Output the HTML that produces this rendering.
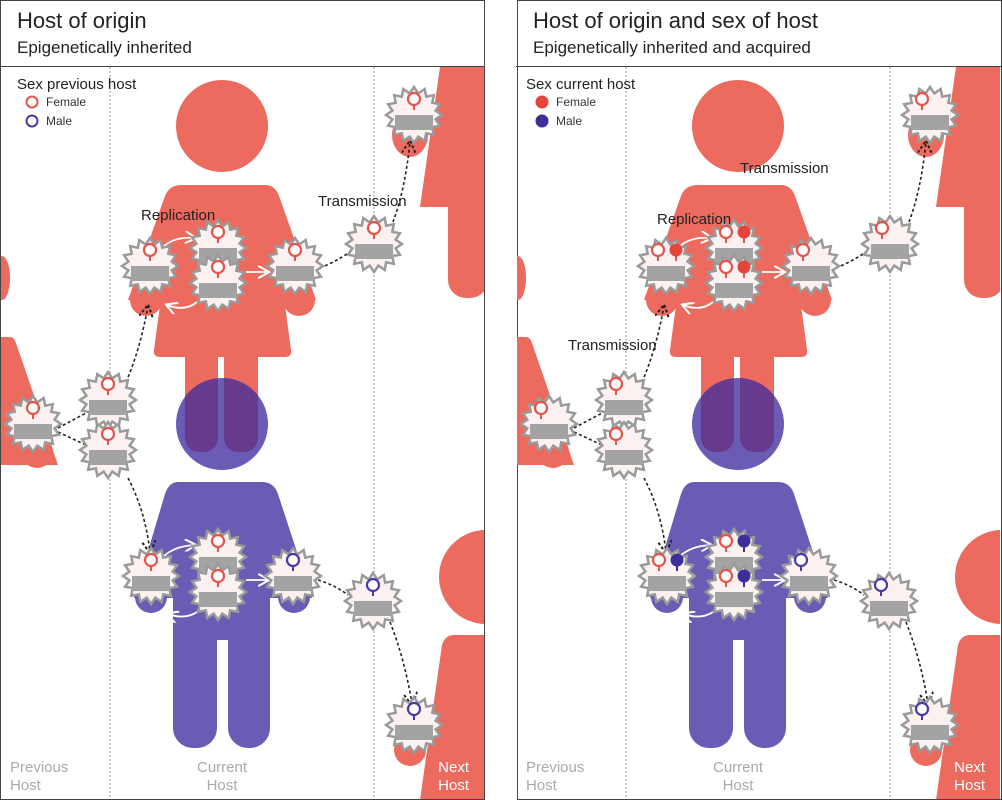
<!DOCTYPE html>
<html><head><meta charset="utf-8"><style>
html,body{margin:0;padding:0;background:#fff;}
svg{display:block;font-family:"Liberation Sans",sans-serif;}
</style></head><body>
<svg width="1002" height="800" viewBox="0 0 1002 800" xmlns="http://www.w3.org/2000/svg">
<defs>
<g id="v">
<polygon points="28,0 21.6,4.3 25.9,10.7 18.3,12.2 19.8,19.8 12.2,18.3 10.7,25.9 4.3,21.6 0,28 -4.3,21.6 -10.7,25.9 -12.2,18.3 -19.8,19.8 -18.3,12.2 -25.9,10.7 -21.6,4.3 -28,0 -21.6,-4.3 -25.9,-10.7 -18.3,-12.2 -19.8,-19.8 -12.2,-18.3 -10.7,-25.9 -4.3,-21.6 0,-28 4.3,-21.6 10.7,-25.9 12.2,-18.3 19.8,-19.8 18.3,-12.2 25.9,-10.7 21.6,-4.3" fill="#fbf1f1" stroke="#9a9a9a" stroke-width="2.5" stroke-linejoin="miter"/>
<rect x="-19" y="0" width="38" height="15" fill="#a3a3a3"/>
</g>
<g id="mf"><line x1="0" y1="0" x2="0" y2="-5" stroke="#e5544a" stroke-width="2"/><circle cx="0" cy="-11" r="6" fill="#fff" stroke="#e5544a" stroke-width="2.2"/></g>
<g id="mm"><line x1="0" y1="0" x2="0" y2="-5" stroke="#4a3aa8" stroke-width="2"/><circle cx="0" cy="-11" r="6" fill="#fff" stroke="#4a3aa8" stroke-width="2.2"/></g>
<g id="ff"><line x1="0" y1="0" x2="0" y2="-5" stroke="#e5544a" stroke-width="2"/><circle cx="0" cy="-11" r="6.5" fill="#e5443a"/></g>
<g id="fm"><line x1="0" y1="0" x2="0" y2="-5" stroke="#3e2e9a" stroke-width="2"/><circle cx="0" cy="-11" r="6.5" fill="#3e2e9a"/></g>
<marker id="ah" viewBox="0 0 10 10" refX="8" refY="5" markerWidth="9" markerHeight="9" orient="auto-start-reverse"><path d="M0,0 L9,5 L0,10" fill="none" stroke="#222" stroke-width="1.4" stroke-dasharray="2 1.5"/></marker>
<marker id="wh" viewBox="0 0 10 10" refX="8" refY="5" markerWidth="7" markerHeight="7" orient="auto"><path d="M0,0 L9,5 L0,10" fill="none" stroke="#fff" stroke-width="1.6"/></marker>
<clipPath id="cp"><rect x="1" y="67" width="483" height="732"/></clipPath>
<clipPath id="headclip"><circle cx="222" cy="424" r="46"/></clipPath>

<g id="figs">
<ellipse cx="2" cy="278" rx="8" ry="22" fill="#ec6b5e"/>
<path d="M0 337 L10 337 Q14 337 16 343 L58 465 L0 465 Z" fill="#ec6b5e"/>
<circle cx="37" cy="452" r="16" fill="#ec6b5e"/>
<circle cx="222" cy="126" r="46" fill="#ec6b5e"/>
<path d="M182 185 H265 Q275 185 279 196 L316 300 L128 300 L165 196 Q169 185 182 185 Z" fill="#ec6b5e"/>
<circle cx="146" cy="300" r="16" fill="#ec6b5e"/>
<circle cx="299" cy="300" r="16" fill="#ec6b5e"/>
<path d="M162 290 H283 L291 350 Q292 357 285 357 H160 Q153 357 154 350 Z" fill="#ec6b5e"/>
<rect x="185" y="340" width="33" height="112" rx="14" fill="#ec6b5e"/>
<rect x="224" y="340" width="34" height="112" rx="14" fill="#ec6b5e"/>
<circle cx="222" cy="424" r="46" fill="#6a5cb4"/>
<g clip-path="url(#headclip)">
<rect x="185" y="340" width="33" height="112" rx="14" fill="#683a8e"/>
<rect x="224" y="340" width="34" height="112" rx="14" fill="#683a8e"/>
</g>
<path d="M178 482 H262 Q274 482 278 494 L312 598 L134 598 L165 494 Q169 482 178 482 Z" fill="#6a5cb4"/>
<circle cx="151" cy="597" r="16" fill="#6a5cb4"/>
<circle cx="294" cy="597" r="16" fill="#6a5cb4"/>
<rect x="173" y="560" width="97" height="80" fill="#6a5cb4"/>
<rect x="173" y="600" width="44" height="148" rx="20" fill="#6a5cb4"/>
<rect x="228" y="600" width="42" height="148" rx="20" fill="#6a5cb4"/>
<ellipse cx="410" cy="135" rx="18" ry="22" fill="#ec6b5e"/>
<path d="M440 67 H484 V207 H420 Z" fill="#ec6b5e"/>
<rect x="448" y="150" width="40" height="148" rx="18" fill="#ec6b5e"/>
<circle cx="486" cy="577" r="47" fill="#ec6b5e"/>
<path d="M454 635 H490 V800 H420 L442 645 Q445 635 454 635 Z" fill="#ec6b5e"/>
<ellipse cx="410" cy="750" rx="16" ry="16" fill="#ec6b5e"/>
<line x1="110" y1="67" x2="110" y2="799" stroke="#999" stroke-width="1" stroke-dasharray="2 2"/>
<line x1="374" y1="67" x2="374" y2="799" stroke="#999" stroke-width="1" stroke-dasharray="2 2"/>
<g fill="none" stroke="#222" stroke-width="1.6" stroke-dasharray="3 2.5">
<path d="M58 428 L88 412"/>
<path d="M58 432 L88 446"/>
<path d="M126 382 Q140 350 148 306" marker-end="url(#ah)"/>
<path d="M128 478 Q145 510 150 552" marker-end="url(#ah)"/>
<path d="M320 268 Q335 262 350 252"/>
<path d="M393 222 Q405 190 410 142" marker-end="url(#ah)"/>
<path d="M318 580 Q335 585 348 595"/>
<path d="M390 622 Q405 660 412 704" marker-end="url(#ah)"/>
</g>
<g fill="none" stroke="#fff" stroke-width="1.8">
<path d="M160 250 Q172 236 195 238" marker-end="url(#wh)"/>
<path d="M197 302 Q185 312 167 305" marker-end="url(#wh)"/>
<path d="M246 272 L268 272" marker-end="url(#wh)"/>
<path d="M160 560 Q172 546 195 545" marker-end="url(#wh)"/>
<path d="M197 612 Q185 620 168 614" marker-end="url(#wh)"/>
<path d="M246 580 L268 580" marker-end="url(#wh)"/>
</g>
<use href="#v" x="150" y="266"/>
<use href="#v" x="218" y="248"/>
<use href="#v" x="218" y="283"/>
<use href="#v" x="295" y="266"/>
<use href="#v" x="374" y="244"/>
<use href="#v" x="414" y="115"/>
<use href="#v" x="33" y="424"/>
<use href="#v" x="108" y="400"/>
<use href="#v" x="108" y="450"/>
<use href="#v" x="151" y="576"/>
<use href="#v" x="218" y="557"/>
<use href="#v" x="218" y="592"/>
<use href="#v" x="293" y="576"/>
<use href="#v" x="373" y="601"/>
<use href="#v" x="414" y="725"/>
</g>
</defs>

<rect x="0.5" y="0.5" width="484" height="799" fill="#fff" stroke="#444" stroke-width="1"/>
<g clip-path="url(#cp)"><use href="#figs"/>
<use href="#mf" x="150" y="261"/><use href="#mf" x="218" y="243"/><use href="#mf" x="218" y="278"/><use href="#mf" x="295" y="261"/><use href="#mf" x="374" y="239"/><use href="#mf" x="414" y="110"/>
<use href="#mf" x="33" y="419"/><use href="#mf" x="108" y="395"/><use href="#mf" x="108" y="445"/>
<use href="#mf" x="151" y="571"/><use href="#mf" x="218" y="552"/><use href="#mf" x="218" y="587"/><use href="#mm" x="293" y="571"/><use href="#mm" x="373" y="596"/><use href="#mm" x="414" y="720"/>
</g>
<line x1="0" y1="66.5" x2="484" y2="66.5" stroke="#444"/>
<text x="17" y="28" font-size="22" fill="#222">Host of origin</text>
<text x="17" y="53" font-size="17" fill="#222">Epigenetically inherited</text>
<text x="17" y="89" font-size="15" fill="#222">Sex previous host</text>
<circle cx="32" cy="102" r="5.5" fill="#fff" stroke="#e5544a" stroke-width="2"/>
<circle cx="32" cy="121" r="5.5" fill="#fff" stroke="#4a3aa8" stroke-width="2"/>
<text x="46" y="106" font-size="12" fill="#333">Female</text>
<text x="46" y="125" font-size="12" fill="#333">Male</text>
<text x="141" y="220" font-size="15" fill="#222">Replication</text>
<text x="318" y="206" font-size="15" fill="#222">Transmission</text>
<g font-size="15" fill="#aaa"><text x="10" y="772">Previous</text><text x="10" y="790">Host</text>
<text x="222" y="772" text-anchor="middle">Current</text><text x="222" y="790" text-anchor="middle">Host</text></g>
<g font-size="15" fill="#fff"><text x="469" y="772" text-anchor="end">Next</text><text x="469" y="790" text-anchor="end">Host</text></g>

<rect x="517.5" y="0.5" width="484" height="799" fill="#fff" stroke="#444" stroke-width="1"/>
<g transform="translate(516,0)">
<g clip-path="url(#cp)"><use href="#figs"/>
<use href="#mf" x="142" y="261"/><use href="#ff" x="160" y="261"/>
<use href="#mf" x="210" y="243"/><use href="#ff" x="228" y="243"/>
<use href="#mf" x="210" y="278"/><use href="#ff" x="228" y="278"/>
<use href="#mf" x="287" y="261"/><use href="#mf" x="366" y="239"/><use href="#mf" x="406" y="110"/>
<use href="#mf" x="25" y="419"/><use href="#mf" x="100" y="395"/><use href="#mf" x="100" y="445"/>
<use href="#mf" x="143" y="571"/><use href="#fm" x="161" y="571"/>
<use href="#mf" x="210" y="552"/><use href="#fm" x="228" y="552"/>
<use href="#mf" x="210" y="587"/><use href="#fm" x="228" y="587"/>
<use href="#mm" x="285" y="571"/><use href="#mm" x="365" y="596"/><use href="#mm" x="406" y="720"/>
</g>
<line x1="0" y1="66.5" x2="485" y2="66.5" stroke="#444"/>
<text x="17" y="28" font-size="22" fill="#222">Host of origin and sex of host</text>
<text x="17" y="53" font-size="17" fill="#222">Epigenetically inherited and acquired</text>
<text x="10" y="89" font-size="15" fill="#222">Sex current host</text>
<circle cx="26" cy="102" r="6.5" fill="#e5443a"/>
<circle cx="26" cy="121" r="6.5" fill="#3e2e9a"/>
<text x="40" y="106" font-size="12" fill="#333">Female</text>
<text x="40" y="125" font-size="12" fill="#333">Male</text>
<text x="141" y="224" font-size="15" fill="#222">Replication</text>
<text x="224" y="173" font-size="15" fill="#222">Transmission</text>
<text x="52" y="350" font-size="15" fill="#222">Transmission</text>
<g font-size="15" fill="#aaa"><text x="10" y="772">Previous</text><text x="10" y="790">Host</text>
<text x="222" y="772" text-anchor="middle">Current</text><text x="222" y="790" text-anchor="middle">Host</text></g>
<g font-size="15" fill="#fff"><text x="469" y="772" text-anchor="end">Next</text><text x="469" y="790" text-anchor="end">Host</text></g>
</g>
</svg>
</body></html>
